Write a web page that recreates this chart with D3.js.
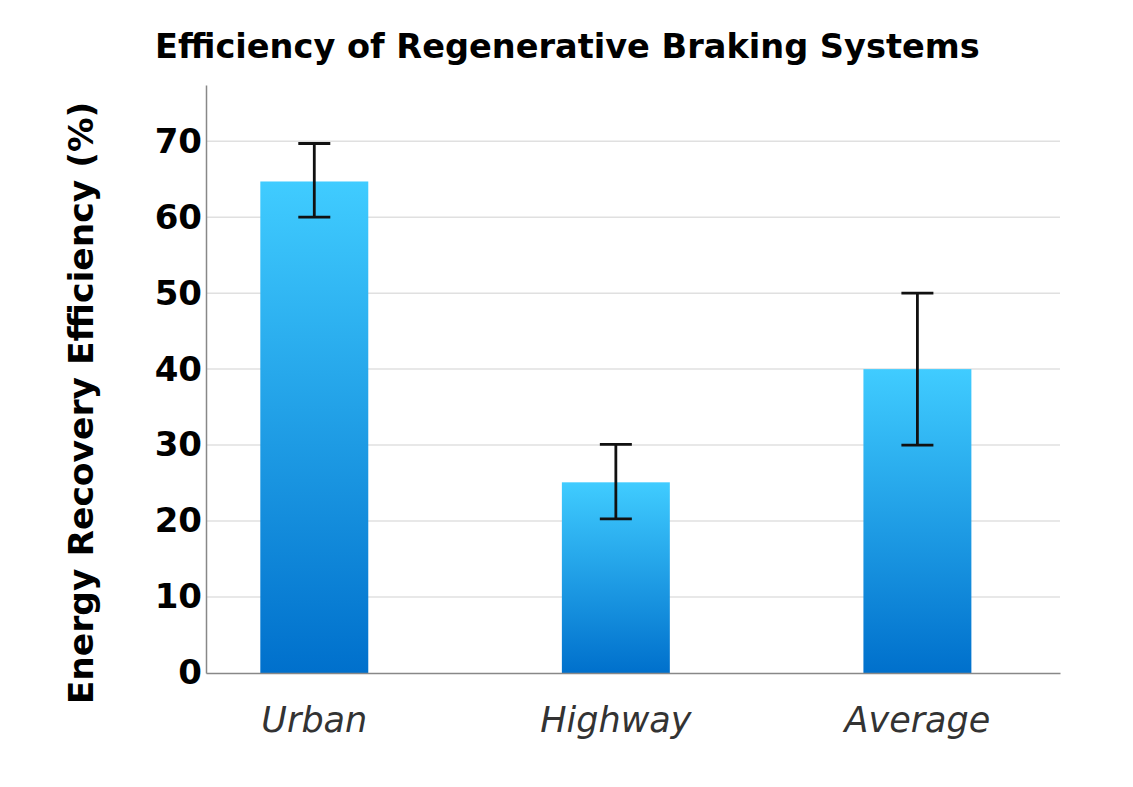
<!DOCTYPE html>
<html>
<head>
<meta charset="utf-8">
<script src="https://cdn.jsdelivr.net/npm/d3@7"></script>
<style>
  body { margin: 0; background: #fff; }
  text { font-family: "DejaVu Sans", sans-serif; }
</style>
</head>
<body>
<div class="chart"></div>
<script>
const categories = ["Urban", "Highway", "Average"];
const efficiency = [64.7, 25.1, 40];
const errLow = [60, 20.3, 30];
const errHigh = [69.7, 30.1, 50];
const yTicks = [0, 10, 20, 30, 40, 50, 60, 70];

const data = categories.map((c, i) => ({
    name: c,
    value: efficiency[i],
    lo: errLow[i],
    hi: errHigh[i]
}));

var width = 1133, height = 787;
var margin = {top: 85, right: 73, bottom: 114, left: 206};

var svg = d3.select(".chart")
    .append("svg")
    .attr("width", width)
    .attr("height", height);

var grad = svg.append("defs").append("linearGradient")
    .attr("id", "barGrad")
    .attr("x1", 0).attr("y1", 0).attr("x2", 0).attr("y2", 1);
grad.append("stop").attr("offset", "0%").attr("stop-color", "#40ccff");
grad.append("stop").attr("offset", "100%").attr("stop-color", "#0070cc");

var x = d3.scaleBand()
    .domain(categories)
    .range([margin.left, width - margin.right])
    .paddingInner(0.642)
    .paddingOuter(0.237)
    .align(0.38);

var y = d3.scaleLinear()
    .domain([0, 77.4])
    .range([height - margin.bottom, margin.top]);

// gridlines
svg.append("g")
    .selectAll("line")
    .data(yTicks.filter(d => d > 0))
    .enter()
    .append("line")
    .attr("x1", margin.left)
    .attr("x2", width - margin.right)
    .attr("y1", d => y(d))
    .attr("y2", d => y(d))
    .attr("stroke", "#e0e0e0")
    .attr("stroke-width", 1.5);

// bars
svg.append("g")
    .selectAll("rect")
    .data(data)
    .enter()
    .append("rect")
    .attr("x", d => x(d.name))
    .attr("y", d => y(d.value))
    .attr("width", x.bandwidth())
    .attr("height", d => y(0) - y(d.value))
    .attr("fill", "url(#barGrad)");

// error bars
var eb = svg.append("g")
    .selectAll("g")
    .data(data)
    .enter()
    .append("g")
    .attr("stroke", "#111")
    .attr("stroke-width", 2.8);
eb.append("line")
    .attr("x1", d => x(d.name) + x.bandwidth() / 2)
    .attr("x2", d => x(d.name) + x.bandwidth() / 2)
    .attr("y1", d => y(d.lo))
    .attr("y2", d => y(d.hi));
eb.append("line")
    .attr("x1", d => x(d.name) + x.bandwidth() / 2 - 16)
    .attr("x2", d => x(d.name) + x.bandwidth() / 2 + 16)
    .attr("y1", d => y(d.hi))
    .attr("y2", d => y(d.hi));
eb.append("line")
    .attr("x1", d => x(d.name) + x.bandwidth() / 2 - 16)
    .attr("x2", d => x(d.name) + x.bandwidth() / 2 + 16)
    .attr("y1", d => y(d.lo))
    .attr("y2", d => y(d.lo));

// y axis
var yAxis = svg.append("g")
    .attr("transform", "translate(" + margin.left + ",0)")
    .call(d3.axisLeft(y).tickValues(yTicks).tickSize(0).tickPadding(4));
yAxis.select(".domain").attr("stroke", "#888").attr("stroke-width", 1.5);
yAxis.selectAll("text")
    .attr("font-size", 34)
    .attr("font-weight", "bold")
    .attr("fill", "#000")
    .attr("font-family", "DejaVu Sans, sans-serif");

// x axis
var xAxis = svg.append("g")
    .attr("transform", "translate(0," + y(0) + ")")
    .call(d3.axisBottom(x).tickSize(0).tickPadding(34));
xAxis.select(".domain").attr("stroke", "#888").attr("stroke-width", 1.5);
xAxis.selectAll("text")
    .attr("font-size", 35)
    .attr("font-style", "italic")
    .attr("fill", "#333")
    .attr("font-family", "DejaVu Sans, sans-serif");

// title
svg.append("text")
    .attr("x", 155)
    .attr("y", 58)
    .attr("font-size", 33.6)
    .attr("font-weight", "bold")
    .attr("fill", "#000")
    .text("Efficiency of Regenerative Braking Systems");

// y title
svg.append("text")
    .attr("transform", "translate(93,403) rotate(-90)")
    .attr("text-anchor", "middle")
    .attr("font-size", 34.5)
    .attr("font-weight", "bold")
    .attr("fill", "#000")
    .text("Energy Recovery Efficiency (%)");
</script>
</body>
</html>
